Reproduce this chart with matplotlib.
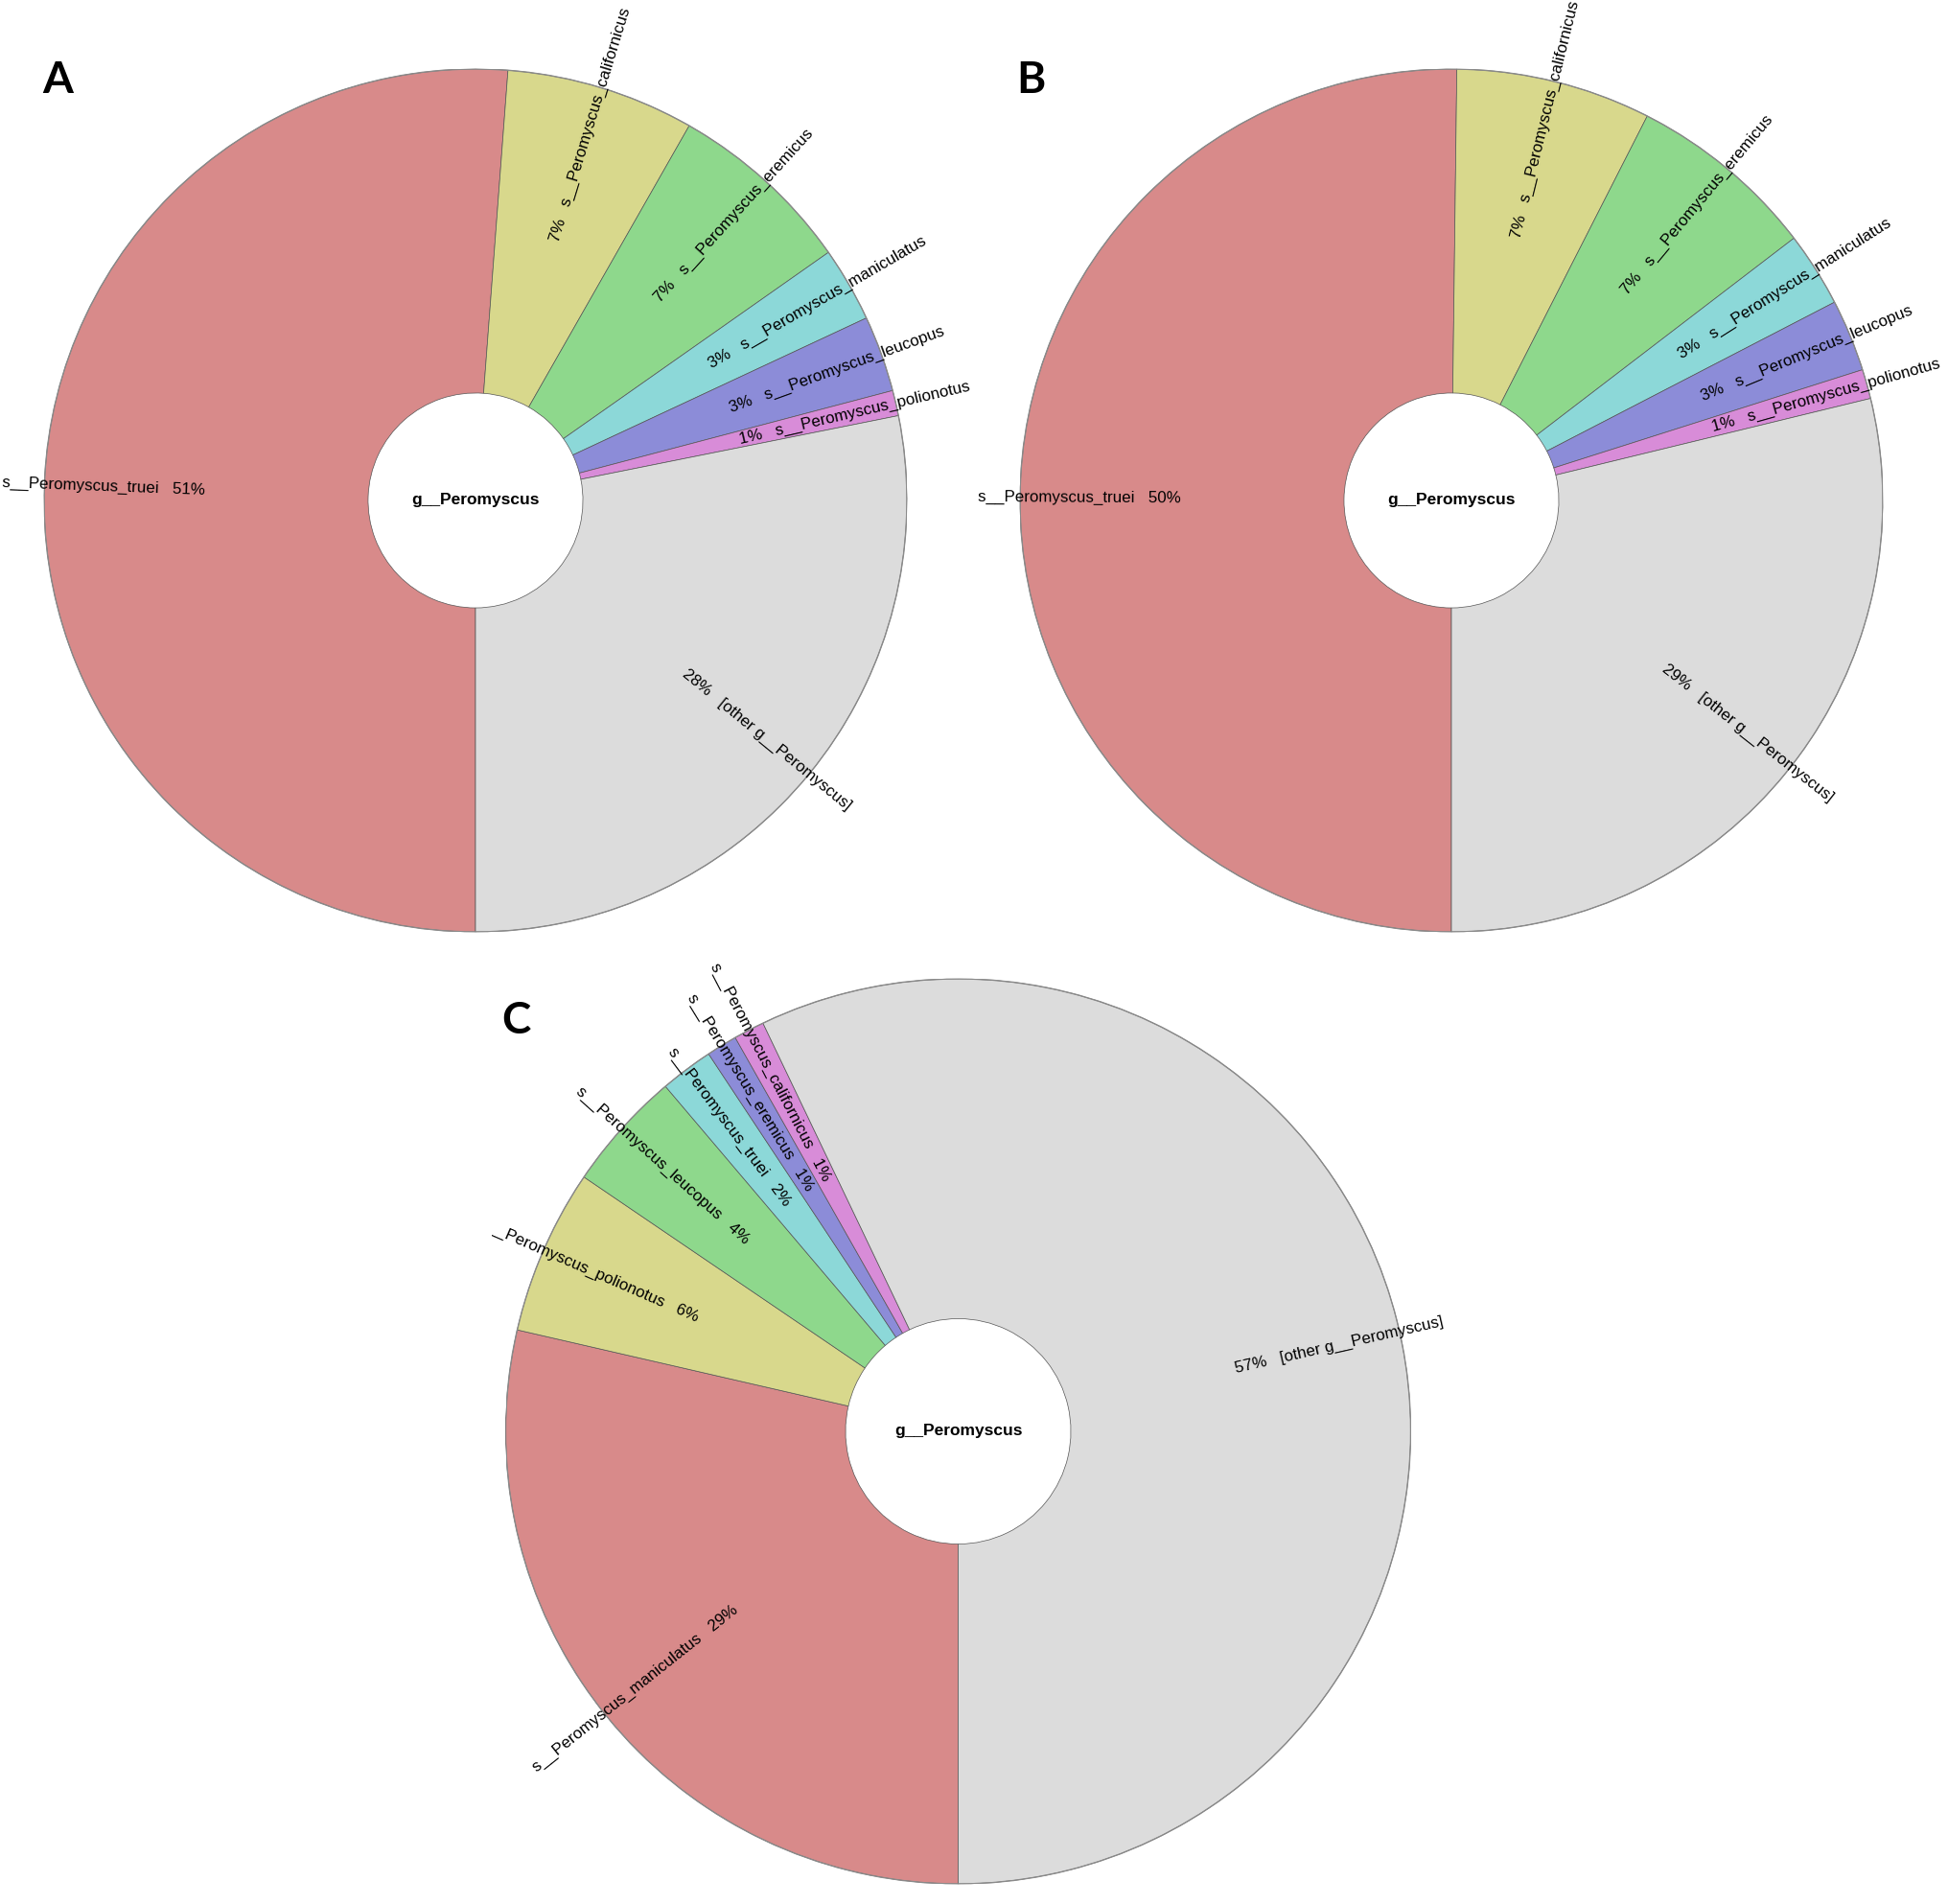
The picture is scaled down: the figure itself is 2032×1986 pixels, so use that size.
"""
Krona style donut charts of Peromyscus species read in three samples (A, B, C).
"""
import numpy as np
import matplotlib
matplotlib.use("Agg")
import matplotlib.pyplot as plt
from matplotlib.transforms import Bbox

plt.rcParams['font.family'] = ['Liberation Sans', 'DejaVu Sans']

# DATA
genus = "g__Peromyscus"

species_A = ["s__Peromyscus_truei", "s__Peromyscus_californicus", "s__Peromyscus_eremicus",
             "s__Peromyscus_maniculatus", "s__Peromyscus_leucopus", "s__Peromyscus_polionotus",
             "[other g__Peromyscus]"]
pct_A = [51.2, 7.05, 7.0, 2.8, 2.85, 0.95, 28.15]

species_B = ["s__Peromyscus_truei", "s__Peromyscus_californicus", "s__Peromyscus_eremicus",
             "s__Peromyscus_maniculatus", "s__Peromyscus_leucopus", "s__Peromyscus_polionotus",
             "[other g__Peromyscus]"]
pct_B = [50.2, 7.3, 7.1, 2.8, 2.7, 1.1, 28.8]

species_C = ["s__Peromyscus_maniculatus", "s__Peromyscus_polionotus", "s__Peromyscus_leucopus",
             "s__Peromyscus_truei", "s__Peromyscus_eremicus", "s__Peromyscus_californicus",
             "[other g__Peromyscus]"]
pct_C = [28.6, 5.9, 4.3, 1.9, 1.1, 1.1, 57.1]

# colours by rank (largest named taxon first), grey for the rest
colors = ["#d88a8a", "#d8d88c", "#8ed88c", "#8cd8d8", "#8c8cd8", "#d88cd8", "#dcdcdc"]

# FIGURE (pixel layout of the original image)
W, H = 2032, 1986
fig = plt.figure(figsize=(W / 100, H / 100), dpi=100)
fig.patch.set_facecolor("white")

LABEL_SIZE = 12.2
HOLE_FRAC = 0.249
TEXT_R = 0.627


def draw_krona(cx, cy, R, names, pct, clip_left=None):
    """Donut with radial labels, centre (cx, cy) and radius R in pixels."""
    ax = fig.add_axes([(cx - R) / W, 1 - (cy + R) / H, 2 * R / W, 2 * R / H])
    wedges, _ = ax.pie(pct, colors=colors, startangle=-90, counterclock=False, radius=1,
                       wedgeprops=dict(width=1 - HOLE_FRAC, edgecolor="#555555", linewidth=0.5))
    ax.set_xlim(-1, 1)
    ax.set_ylim(-1, 1)
    ax.axis("off")

    # outer rim a bit greyer
    ax.add_patch(plt.Circle((0, 0), 1, fill=False, edgecolor="#8a8a8a", linewidth=1.0))

    for w, name, p in zip(wedges, names, pct):
        mid = ((w.theta1 + w.theta2) / 2) % 360
        x = TEXT_R * np.cos(np.radians(mid))
        y = TEXT_R * np.sin(np.radians(mid))
        if 90 < mid < 270:
            txt = f"{name}   {round(p)}%"
            t = ax.text(x, y, txt, ha="right", va="center", rotation=mid - 180,
                        rotation_mode="anchor", fontsize=LABEL_SIZE, color="black")
        else:
            txt = f"{round(p)}%   {name}"
            t = ax.text(x, y, txt, ha="left", va="center", rotation=mid,
                        rotation_mode="anchor", fontsize=LABEL_SIZE, color="black")
        if clip_left is not None:
            t.set_clip_box(Bbox.from_extents(clip_left, 0, W, H))
            t.set_clip_on(True)

    ax.text(0, 0, genus, ha="center", va="center", fontsize=12.5, fontweight="bold")
    return ax


ax_A = draw_krona(496, 522, 450, species_A, pct_A)
ax_B = draw_krona(1514, 522, 450, species_B, pct_B)
ax_C = draw_krona(999.5, 1493, 472, species_C, pct_C, clip_left=513)

# PANEL LETTERS
for letter, px, py in [("A", 44, 97), ("B", 1060, 97), ("C", 523, 1078)]:
    fig.text(px / W, 1 - py / H, letter, fontsize=33, fontweight="bold",
             family=["Lato", "DejaVu Sans"], ha="left", va="baseline")

fig.savefig("out.png", dpi=100, facecolor="white")
